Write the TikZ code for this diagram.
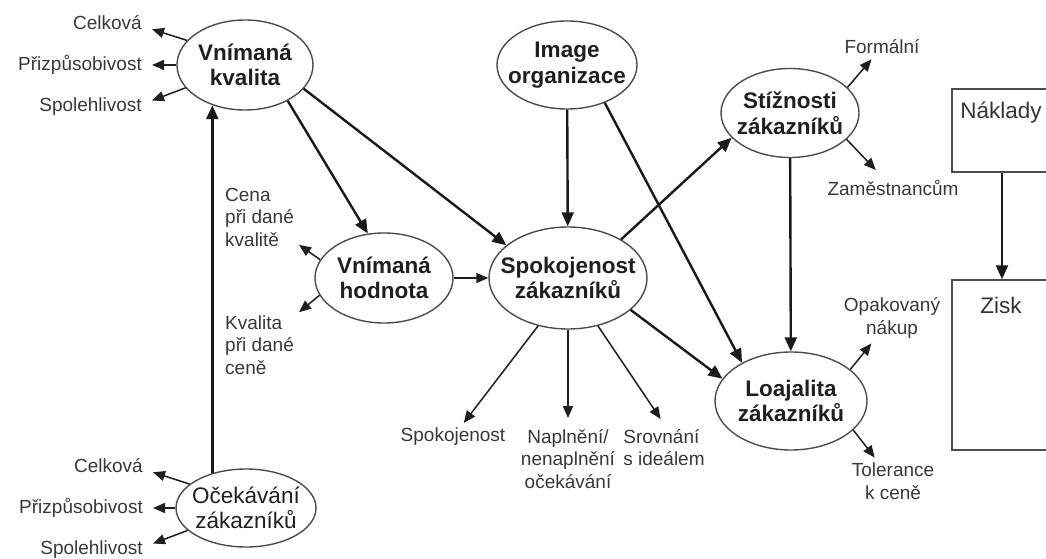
\documentclass[tikz,border=0pt]{standalone}
\usepackage{fontspec}
\setmainfont{Liberation Sans}
\usetikzlibrary{shapes.geometric,arrows.meta,positioning}

\begin{document}
\begin{tikzpicture}[x=1pt,y=-1pt,
  elli/.style={ellipse,draw=black!70,line width=1.4pt,align=center,inner xsep=-20pt,inner ysep=-4pt,text=black!88,font=\bfseries\fontsize{22.5}{25.5}\selectfont},
  box/.style={rectangle,draw=black!70,line width=1.4pt,minimum width=100pt},
  lbl/.style={text=black!78,inner sep=5pt,font=\fontsize{19}{22.5}\selectfont},
  big/.style={text=black!80,font=\fontsize{22.5}{25.5}\selectfont},
  thn/.style={>={Triangle[length=12pt,width=10pt]},->,draw=black!88,line width=1.5pt},
  thk/.style={>={Triangle[length=14pt,width=12pt]},->,draw=black!90,line width=2.4pt}]

\useasboundingbox (0,0) rectangle (1046,559);
\clip (0,0) rectangle (1046,559);

\node[elli,minimum width=136pt,minimum height=90pt] (kv) at (245,65) {Vnímaná\\kvalita};
\node[elli,minimum width=140pt,minimum height=88pt] (img) at (567,65) {Image\\organizace};
\node[elli,minimum width=138pt,minimum height=89pt] (st) at (790,113) {Stížnosti\\zákazníků};
\node[elli,minimum width=138pt,minimum height=90pt] (hod) at (384,278) {Vnímaná\\hodnota};
\node[elli,minimum width=158pt,minimum height=102pt] (sp) at (568,278) {Spokojenost\\zákazníků};
\node[elli,minimum width=152pt,minimum height=98pt] (lo) at (791,401) {Loajalita\\zákazníků};
\node[elli,minimum width=140pt,minimum height=78pt,font=\fontsize{22.5}{25.5}\selectfont] (oc) at (246,508) {Očekávání\\zákazníků};

% boxes on the right
\node[box,minimum height=83pt] (nak) at (1002,130.5) {};
\node[big] (nakt) at (1001,113) {Náklady};
\node[box,minimum height=170pt] (zis) at (1002,365) {};
\node[big] (zist) at (1001,305) {Zisk};

\foreach \e in {kv,oc}{
\node[lbl,inner xsep=10pt,anchor=east] (\e c) at ([shift={(-93,-42)}]\e) {Celková};
\node[lbl,inner xsep=10pt,anchor=east] (\e p) at ([shift={(-93,0)}]\e) {Přizpůsobivost};
\node[lbl,inner xsep=10pt,anchor=east] (\e s) at ([shift={(-93,42)}]\e) {Spolehlivost};
\draw[thn] (\e.157) -- (\e c.-8);
\draw[thn] (\e.west) -- (\e p.east);
\draw[thn] (\e.201) -- (\e s.6);
}

\node[lbl,anchor=west,align=left] (cena) at (220,217) {Cena\\při dané\\kvalitě};
\node[lbl,anchor=west,align=left] (kval) at (220,345) {Kvalita\\při dané\\ceně};
\node[lbl] (fo) at (882,47) {Formální};
\node[lbl] (za) at (893,188) {Zaměstnancům};
\node[lbl,align=center] (op) at (892,318) {Opakovaný\\nákup};
\node[lbl,align=center] (to) at (893,481) {Tolerance\\k ceně};
\node[lbl] (sk) at (453,437) {Spokojenost};
\node[lbl,align=center,anchor=north] (nap) at (568,424) {Naplnění/\\nenaplnění\\očekávání};
\node[lbl,align=left,anchor=north] (sr) at (664,424) {Srovnání\\s ideálem};

\draw[thn] (hod.164) -- (cena);
\draw[thn] (hod.195) -- (kval);
\draw[thn] (hod) -- (sp);
\draw[thn] (sp.238) -- (sk);
\draw[thn,shorten >=6pt] (sp) -- (nap);
\draw[thn,shorten >=6pt] (sp.-58) -- (sr.north);
\draw[thn] (st.24) -- (fo);
\draw[thn,shorten >=7pt] (st.-25) -- (za);
\draw[thn] (lo.28) -- (op);
\draw[thn] (lo.-25) -- (to);

\begin{scope}[thk]
\draw (kv.-40) -- (hod.110);
\draw (kv.-22) -- (sp.152);
\draw (img) -- (sp);
\draw (img.-45) -- (lo.142);
\draw (sp.36) -- (st.203);
\draw (sp.-27) -- (lo.162);
\draw (st) -- (lo);
\draw (oc.134) -- (oc.134 |- kv.231);
\draw (nak) -- (zis);
\end{scope}

\end{tikzpicture}
\end{document}
